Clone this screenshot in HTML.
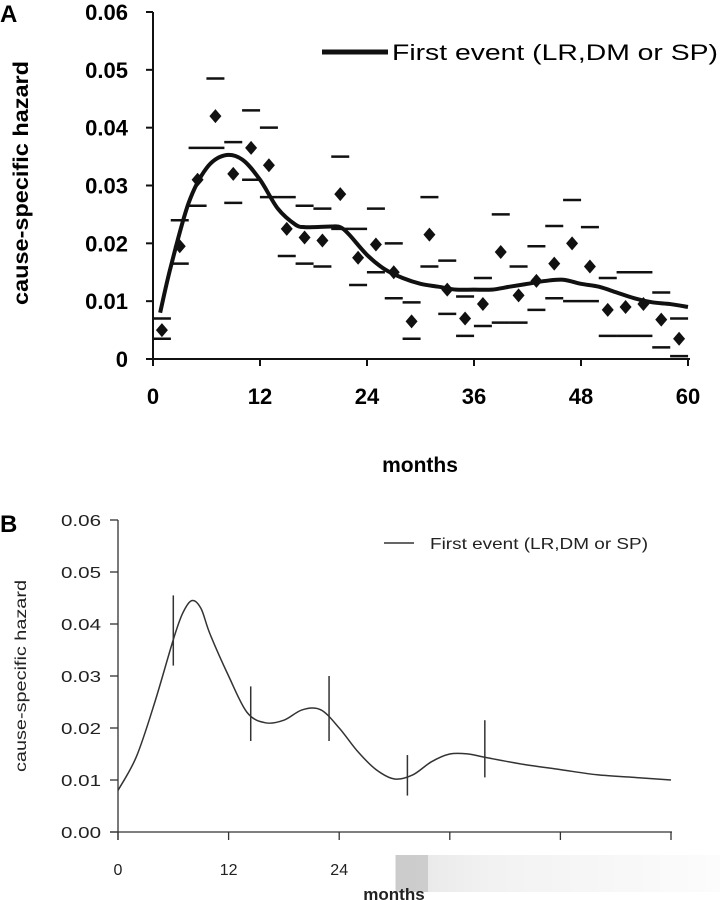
<!DOCTYPE html>
<html><head><meta charset="utf-8">
<style>
html,body{margin:0;padding:0;background:#fff;}
svg{display:block;font-family:"Liberation Sans",Arial,sans-serif;}
</style></head>
<body>
<svg id="chart" width="720" height="900" viewBox="0 0 720 900" xmlns="http://www.w3.org/2000/svg">
<defs>
<linearGradient id="fade" x1="0" x2="1" y1="0" y2="0">
<stop offset="0" stop-color="#e6e6e6"/><stop offset="0.3" stop-color="#f2f2f2"/><stop offset="1" stop-color="#fcfcfc"/>
</linearGradient>
</defs>
<g id="panelA"></g>
<g id="panelB"></g>
</svg>
<script>
// ---- Panel A data ----
const aMonths = [1,3,5,7,9,11,13,15,17,19,21,23,25,27,29,31,33,35,37,39,41,43,45,47,49,51,53,55,57,59];
const aPoint = [0.005,0.0195,0.031,0.042,0.032,0.0365,0.0335,0.0225,0.021,0.0205,0.0285,0.0175,0.0198,0.015,0.0065,0.0215,0.012,0.007,0.0095,0.0185,0.011,0.0135,0.0165,0.02,0.016,0.0085,0.009,0.0095,0.0068,0.0035];
const aUpper = [0.007,0.024,0.0365,0.0485,0.0375,0.043,0.040,0.028,0.0265,0.026,0.035,0.0225,0.026,0.020,0.0098,0.028,0.017,0.0108,0.014,0.025,0.016,0.0195,0.023,0.0275,0.0228,0.014,0.015,0.015,0.0115,0.007];
const aLower = [0.0035,0.0165,0.0265,0.0365,0.027,0.031,0.028,0.0178,0.0165,0.016,0.0225,0.0128,0.015,0.0105,0.0035,0.016,0.0078,0.004,0.0057,0.0063,0.0063,0.0085,0.0105,0.01,0.01,0.004,0.004,0.004,0.002,0.0005];
const aCurveX = [0.8,2,4,6,8,10,12,14,16,17,18,20,21,22,24,26,28,30,32,34,36,38,40,42,44,46,48,50,52,54,56,58,60];
const aCurveY = [0.008,0.016,0.027,0.033,0.0352,0.0345,0.031,0.026,0.0232,0.0228,0.0228,0.0229,0.0228,0.0215,0.018,0.0155,0.014,0.013,0.0125,0.012,0.012,0.012,0.0125,0.013,0.0135,0.0137,0.013,0.0125,0.0115,0.0105,0.0098,0.0095,0.009];
const aYTicks = ["0","0.01","0.02","0.03","0.04","0.05","0.06"];
const aXTicks = [0,12,24,36,48,60];
// ---- Panel B data ----
const bCurveX = [0,2,4,6,7,8,9,10,12,14,16,18,20,22,24,26,28,30,32,34,36,38,40,44,48,52,56,60];
const bCurveY = [0.008,0.0145,0.025,0.037,0.042,0.0445,0.043,0.038,0.030,0.023,0.021,0.0215,0.0235,0.0235,0.020,0.0155,0.012,0.0102,0.011,0.0135,0.015,0.015,0.0143,0.013,0.012,0.011,0.0105,0.010];
const bCiX = [6.0,14.4,22.9,31.4,39.8];
const bCiLow = [0.032,0.0175,0.0175,0.007,0.0105];
const bCiHigh = [0.0455,0.028,0.030,0.0148,0.0215];
const bYTicks = ["0.00","0.01","0.02","0.03","0.04","0.05","0.06"];
const bXTicks = [0,12,24,36,48,60];
const bXLabels = ["0","12","24","","",""];

const NS="http://www.w3.org/2000/svg";
function mk(parent,tag,attrs,text){const e=document.createElementNS(NS,tag);for(const k in attrs)e.setAttribute(k,attrs[k]);if(text!==undefined)e.textContent=text;parent.appendChild(e);return e;}
function smooth(pts){let d="M"+pts[0][0]+","+pts[0][1];for(let i=0;i<pts.length-1;i++){const p0=pts[Math.max(0,i-1)],p1=pts[i],p2=pts[i+1],p3=pts[Math.min(pts.length-1,i+2)];const c1x=p1[0]+(p2[0]-p0[0])/6,c1y=p1[1]+(p2[1]-p0[1])/6,c2x=p2[0]-(p3[0]-p1[0])/6,c2y=p2[1]-(p3[1]-p1[1])/6;d+=" C"+c1x+","+c1y+" "+c2x+","+c2y+" "+p2[0]+","+p2[1];}return d;}

// ===== Panel A =====
(function(){
const g=document.getElementById('panelA');
const xA=m=>153+m*(688-153)/60, yA=v=>359-v*(359-12)/0.06;
let e=mk(g,'text',{x:0,y:22,'font-size':24,'font-weight':'bold'},'A');


e=mk(g,'line',{x1:153,y1:12,x2:153,y2:359,stroke:'#111','stroke-width':2});


e=mk(g,'line',{x1:148,y1:359,x2:690,y2:359,stroke:'#111','stroke-width':2});


aYTicks.forEach((t,i)=>{const v=i*0.01,y=yA(v);
 mk(g,'line',{x1:146,y1:y,x2:153,y2:y,stroke:'#111','stroke-width':2});
 e=mk(g,'text',{x:128,y:y+8,'font-size':22,'font-weight':'bold','text-anchor':'end'},t);
 
 });
aXTicks.forEach(m=>{const x=xA(m);
 mk(g,'line',{x1:x,y1:359,x2:x,y2:366,stroke:'#111','stroke-width':2});
 e=mk(g,'text',{x:x,y:404,'font-size':22,'font-weight':'bold','text-anchor':'middle'},String(m));
 
 });
e=mk(g,'text',{x:420,y:472,'font-size':21,'font-weight':'bold','text-anchor':'middle'},'months');


e=mk(g,'text',{transform:'translate(28,183) rotate(-90)','font-size':21,'font-weight':'bold','text-anchor':'middle',textLength:244,lengthAdjust:'spacingAndGlyphs'},'cause-specific hazard');


aMonths.forEach((m,i)=>{const x=xA(m);
 e=mk(g,'line',{x1:x-9,x2:x+9,y1:yA(aUpper[i]),y2:yA(aUpper[i]),stroke:'#111','stroke-width':2.5});
 
 
 e=mk(g,'line',{x1:x-9,x2:x+9,y1:yA(aLower[i]),y2:yA(aLower[i]),stroke:'#111','stroke-width':2.5});
 
 
 const y=yA(aPoint[i]);
 e=mk(g,'polygon',{points:`${x},${y-7} ${x+6},${y} ${x},${y+7} ${x-6},${y}`,fill:'#111'});
 
 });
e=mk(g,'path',{d:smooth(aCurveX.map((m,i)=>[xA(m),yA(aCurveY[i])])),fill:'none',stroke:'#111','stroke-width':4});


e=mk(g,'line',{x1:322,y1:52,x2:388,y2:52,stroke:'#111','stroke-width':5});


e=mk(g,'text',{x:392,y:60,'font-size':22,textLength:326,lengthAdjust:'spacingAndGlyphs'},'First event (LR,DM or SP)');


})();

// ===== Panel B =====
(function(){
const g=document.getElementById('panelB');
const xB=m=>118+m*(671-118)/60, yB=v=>832-v*(832-520)/0.06;
let e=mk(g,'text',{x:0,y:532,'font-size':24,'font-weight':'bold'},'B');


e=mk(g,'line',{x1:118,y1:520,x2:118,y2:840,stroke:'#333','stroke-width':1.3});


e=mk(g,'line',{x1:110,y1:832,x2:672,y2:832,stroke:'#333','stroke-width':1.3});


bYTicks.forEach((t,i)=>{const y=yB(i*0.01);
 mk(g,'line',{x1:110,y1:y,x2:118,y2:y,stroke:'#333','stroke-width':1.3});
 e=mk(g,'text',{x:101,y:y+6,'font-size':16,'text-anchor':'end',fill:'#222',textLength:40,lengthAdjust:'spacingAndGlyphs'},t);
 
 });
bXTicks.forEach((m,i)=>{const x=xB(m);
 mk(g,'line',{x1:x,y1:832,x2:x,y2:840,stroke:'#333','stroke-width':1.3});
 if(bXLabels[i]){e=mk(g,'text',{x:x,y:875,'font-size':16,'text-anchor':'middle',fill:'#222'},bXLabels[i]);
 
 }});
e=mk(g,'rect',{x:395,y:855,width:325,height:37,fill:'url(#fade)'});


e=mk(g,'rect',{x:396,y:855,width:32,height:37,fill:'#aaa',opacity:0.45});


e=mk(g,'text',{x:394,y:900,'font-size':17,'font-weight':'bold','text-anchor':'middle',fill:'#222'},'months');


e=mk(g,'text',{transform:'translate(26,676) rotate(-90)','font-size':16,'text-anchor':'middle',fill:'#222',textLength:192,lengthAdjust:'spacingAndGlyphs'},'cause-specific hazard');


e=mk(g,'path',{d:smooth(bCurveX.map((m,i)=>[xB(m),yB(bCurveY[i])])),fill:'none',stroke:'#333','stroke-width':1.5});


bCiX.forEach((m,i)=>{const x=xB(m);
 e=mk(g,'line',{x1:x,x2:x,y1:yB(bCiLow[i]),y2:yB(bCiHigh[i]),stroke:'#333','stroke-width':1.5});
 
 });
e=mk(g,'line',{x1:384,y1:543,x2:414,y2:543,stroke:'#333','stroke-width':1.5});


e=mk(g,'text',{x:430,y:549,'font-size':16,fill:'#222',textLength:218,lengthAdjust:'spacingAndGlyphs'},'First event (LR,DM or SP)');


})();
</script>
</body></html>
